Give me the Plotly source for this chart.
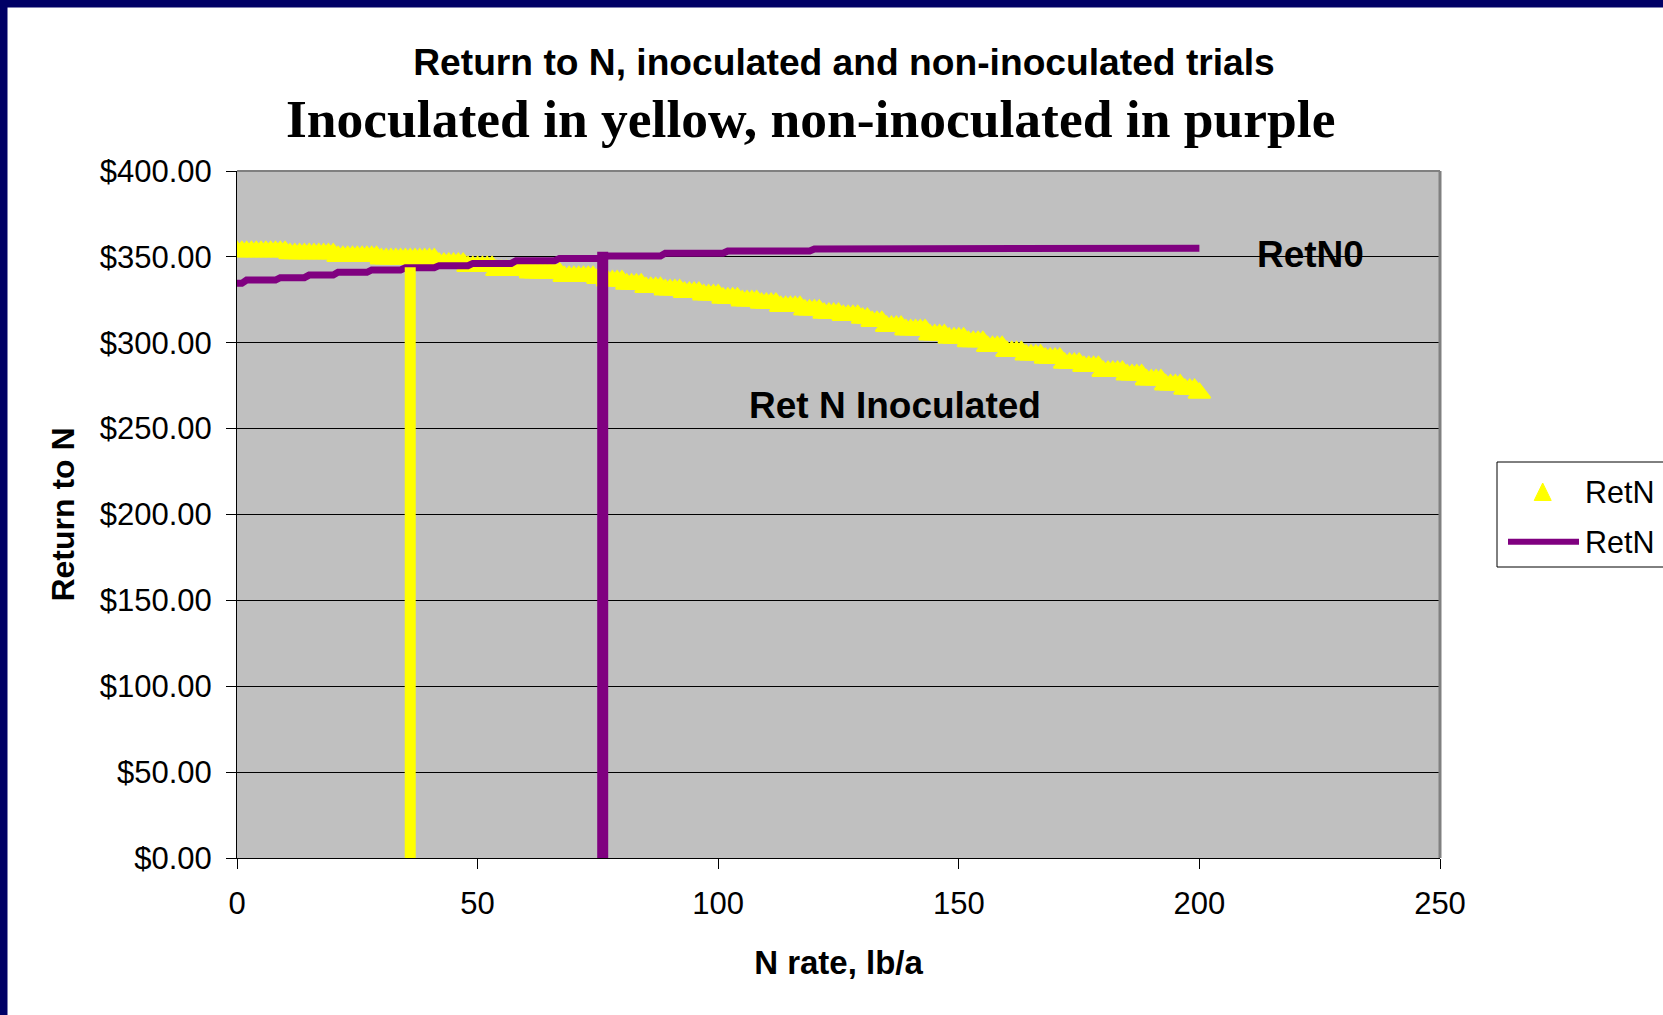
import plotly.graph_objects as go

# ---- data -----------------------------------------------------------------
n_rate = list(range(0, 201))  # N rate, lb/a

# Return to N, inoculated trials ($/a)
ret_n_inoculated = [
    353.2, 353.2, 353.2, 353.2, 353.2, 353.2, 353.2, 353.2, 353.2, 353.2,
    353.2, 351.9, 351.9, 351.9, 351.9, 351.9, 351.9, 351.9, 351.9, 351.9,
    351.9, 350.3, 350.3, 350.3, 350.3, 350.3, 350.3, 350.3, 350.3, 350.3,
    348.9, 348.9, 348.9, 348.9, 348.9, 348.9, 348.9, 348.9, 348.9, 348.9,
    348.9, 348.9, 346.4, 346.4, 346.4, 346.4, 346.4, 346.4, 344.5, 344.5,
    344.5, 344.5, 344.5, 344.5, 342.2, 342.2, 342.2, 342.2, 342.2, 342.2,
    342.2, 340.8, 340.8, 340.8, 340.8, 340.8, 340.8, 340.8, 338.7, 338.7,
    338.7, 338.7, 338.7, 338.7, 338.7, 337.5, 337.5, 336.1, 336.1, 336.1,
    336.1, 334.2, 334.2, 334.2, 334.2, 332.3, 332.3, 332.3, 332.3, 330.9,
    330.9, 330.9, 330.9, 329.4, 329.4, 329.4, 329.4, 328.0, 328.0, 328.0,
    328.0, 326.1, 326.1, 326.1, 326.1, 324.5, 324.5, 324.5, 324.5, 323.1,
    323.1, 323.1, 323.1, 321.2, 321.2, 321.2, 321.2, 321.2, 319.2, 319.2,
    319.2, 319.2, 317.3, 317.3, 317.3, 317.3, 316.0, 316.0, 316.0, 316.0,
    314.4, 314.4, 312.5, 312.5, 312.5, 309.6, 309.6, 309.6, 309.6, 307.6,
    307.6, 307.6, 307.6, 307.6, 304.7, 304.7, 304.7, 304.7, 302.8, 302.8,
    302.8, 302.8, 300.8, 300.8, 300.8, 300.8, 297.9, 297.9, 297.9, 297.9,
    295.0, 295.0, 295.0, 295.0, 293.0, 293.0, 293.0, 293.0, 291.1, 291.1,
    291.1, 291.1, 288.2, 288.2, 288.2, 288.2, 286.3, 286.3, 286.3, 286.3,
    283.4, 283.4, 283.4, 283.4, 283.4, 281.4, 281.4, 281.4, 281.4, 278.5,
    278.5, 278.5, 278.5, 275.6, 275.6, 275.6, 275.6, 273.0, 273.0, 273.0,
    270.7,
]

# Return to N, non-inoculated trials ($/a)
ret_n0 = [
    334.6, 334.6, 336.5, 336.5, 336.5, 336.5, 336.5, 336.5, 336.5, 337.9,
    337.9, 337.9, 337.9, 337.9, 337.9, 339.4, 339.4, 339.4, 339.4, 339.4,
    339.4, 341.0, 341.0, 341.0, 341.0, 341.0, 341.0, 341.0, 342.4, 342.4,
    342.4, 342.4, 342.4, 342.4, 342.4, 343.7, 343.7, 343.7, 343.7, 343.7,
    343.7, 343.7, 344.9, 344.9, 344.9, 344.9, 344.9, 344.9, 344.9, 346.2,
    346.2, 346.2, 346.2, 346.2, 346.2, 346.2, 346.2, 346.2, 347.8, 347.8,
    347.8, 347.8, 347.8, 347.8, 347.8, 347.8, 347.8, 349.1, 349.1, 349.1,
    349.1, 349.1, 349.1, 349.1, 349.1, 349.1, 349.1, 350.5, 350.5, 350.5,
    350.5, 350.5, 350.5, 350.5, 350.5, 350.5, 350.5, 350.5, 350.5, 352.1,
    352.1, 352.1, 352.1, 352.1, 352.1, 352.1, 352.1, 352.1, 352.1, 352.1,
    352.1, 352.1, 353.4, 353.4, 353.4, 353.4, 353.4, 353.4, 353.4, 353.4,
    353.4, 353.4, 353.4, 353.4, 353.4, 353.4, 353.4, 353.4, 353.4, 353.4,
    354.6, 354.6, 354.6, 354.6, 354.6, 354.6, 354.6, 354.6, 354.6, 354.6,
    354.6, 354.6, 354.6, 355.0, 355.0, 355.0, 355.0, 355.0, 355.0, 355.0,
    355.0, 355.0, 355.0, 355.0, 355.0, 355.0, 355.0, 355.0, 355.0, 355.0,
    355.0, 355.0, 355.0, 355.0, 355.0, 355.0, 355.0, 355.0, 355.0, 355.0,
    355.0, 355.0, 355.0, 355.0, 355.0, 355.0, 355.0, 355.0, 355.0, 355.0,
    355.0, 355.0, 355.0, 355.0, 355.0, 355.0, 355.0, 355.0, 355.0, 355.0,
    355.0, 355.0, 355.0, 355.0, 355.0, 355.0, 355.0, 355.0, 355.0, 355.0,
    355.0, 355.0, 355.0, 355.0, 355.0, 355.0, 355.0, 355.0, 355.0, 355.0,
    355.0,
]

# Optimum-rate drop lines (N rate, return)
opt_inoc_x = [36, 36]
opt_inoc_y = [0, 344]
opt_non_x = [76, 76]
opt_non_y = [0, 353]

x_ticks = [0, 50, 100, 150, 200, 250]
y_ticks = [0, 50, 100, 150, 200, 250, 300, 350, 400]

# ---- layout geometry ------------------------------------------------------
W, H = 1663, 1015
ML, MR, MT, MB = 237, 223, 171, 157
PW = W - ML - MR
PH = H - MT - MB

YELLOW = "#FFFF00"
PURPLE = "#800080"
NAVY = "#000066"
SANS = "Liberation Sans, Arial, sans-serif"
SERIF = "Liberation Serif, Times New Roman, serif"


def fx(px):
    return (px - ML) / PW


def fy(py):
    return (H - MB - py) / PH


fig = go.Figure()

fig.add_trace(go.Scatter(
    x=n_rate, y=ret_n_inoculated, mode="markers", name="RetN",
    marker=dict(symbol="triangle-up", size=19, color=YELLOW,
                line=dict(color=YELLOW, width=2)),
    showlegend=False,
))
fig.add_trace(go.Scatter(
    x=n_rate, y=ret_n0, mode="lines", name="RetN0",
    line=dict(color=PURPLE, width=7),
    showlegend=False,
))
fig.add_trace(go.Scatter(
    x=opt_inoc_x, y=opt_inoc_y, mode="lines",
    line=dict(color=YELLOW, width=11), showlegend=False, hoverinfo="skip",
))
fig.add_trace(go.Scatter(
    x=opt_non_x, y=opt_non_y, mode="lines",
    line=dict(color=PURPLE, width=11), showlegend=False, hoverinfo="skip",
))

shapes = [
    # page frame (top and left bands)
    dict(type="rect", xref="paper", yref="paper",
         x0=fx(0), x1=fx(W), y0=fy(0), y1=fy(7.5),
         fillcolor=NAVY, line=dict(width=0)),
    dict(type="rect", xref="paper", yref="paper",
         x0=fx(0), x1=fx(7.5), y0=fy(0), y1=fy(H),
         fillcolor=NAVY, line=dict(width=0)),
    # plot-area border, top and right
    dict(type="line", xref="paper", yref="paper", x0=0, x1=1, y0=1, y1=1,
         line=dict(color="#808080", width=2)),
    dict(type="line", xref="paper", yref="paper", x0=1, x1=1, y0=0, y1=1,
         line=dict(color="#808080", width=3)),
    # legend box
    dict(type="rect", xref="paper", yref="paper",
         x0=fx(1497), x1=fx(1700), y0=fy(462), y1=fy(567),
         fillcolor="white", line=dict(color="black", width=1)),
    # legend symbols
    dict(type="path", xref="paper", yref="paper",
         path="M {:.5f},{:.5f} L {:.5f},{:.5f} L {:.5f},{:.5f} Z".format(
             fx(1534.2), fy(500.5), fx(1551.2), fy(500.5),
             fx(1542.7), fy(483.0)),
         fillcolor=YELLOW, line=dict(color=YELLOW, width=1)),
    dict(type="line", xref="paper", yref="paper",
         x0=fx(1508), x1=fx(1579), y0=fy(541.7), y1=fy(541.7),
         line=dict(color=PURPLE, width=6)),
]

annotations = [
    dict(xref="paper", yref="paper", x=fx(810), y=fy(119),
         text="<b>Inoculated in yellow, non-inoculated in purple</b>",
         showarrow=False, xanchor="center", yanchor="middle",
         font=dict(family=SERIF, size=53.5, color="black")),
    dict(xref="x", yref="y", x=211.5, y=351.4, text="<b>RetN0</b>",
         showarrow=False, xanchor="left", yanchor="middle",
         font=dict(family=SANS, size=37, color="black")),
    dict(xref="x", yref="y", x=106, y=263.2, text="<b>Ret N Inoculated</b>",
         showarrow=False, xanchor="left", yanchor="middle",
         font=dict(family=SANS, size=37, color="black")),
    dict(xref="paper", yref="paper", x=fx(1583), y=fy(491.7), text="RetN",
         showarrow=False, xanchor="left", yanchor="middle",
         font=dict(family=SANS, size=30.5, color="black")),
    dict(xref="paper", yref="paper", x=fx(1583), y=fy(541.7), text="RetN",
         showarrow=False, xanchor="left", yanchor="middle",
         font=dict(family=SANS, size=30.5, color="black")),
]

fig.update_layout(
    width=W, height=H,
    margin=dict(l=ML, r=MR, t=MT, b=MB, pad=0, autoexpand=False),
    paper_bgcolor="white",
    plot_bgcolor="#C0C0C0",
    showlegend=False,
    title=dict(
        text="<b>Return to N, inoculated and non-inoculated trials</b>",
        x=844 / W, xref="container", xanchor="center",
        y=1 - 61.5 / H, yref="container", yanchor="middle",
        font=dict(family=SANS, size=37.2, color="black"),
    ),
    shapes=shapes,
    annotations=annotations,
    font=dict(family=SANS, color="black"),
)

fig.update_xaxes(
    range=[0, 250], tickvals=x_ticks, ticktext=[str(v) for v in x_ticks],
    showgrid=False, zeroline=False,
    showline=True, linecolor="black", linewidth=1,
    ticks="outside", ticklen=10, tickcolor="black", tickwidth=1,
    ticklabelstandoff=8,
    tickfont=dict(family=SANS, size=31, color="black"),
    title=dict(text="<b>N rate, lb/a</b>", standoff=30,
               font=dict(family=SANS, size=33, color="black")),
)
fig.update_yaxes(
    range=[0, 400], tickvals=y_ticks, tickformat="$.2f",
    showgrid=True, gridcolor="black", gridwidth=1, zeroline=False,
    showline=True, linecolor="black", linewidth=1,
    ticks="outside", ticklen=10, tickcolor="black", tickwidth=1,
    ticklabelstandoff=8,
    tickfont=dict(family=SANS, size=31, color="black"),
    title=dict(text="<b>Return to N</b>", standoff=15,
               font=dict(family=SANS, size=32, color="black")),
)

fig.write_html("out.html")
